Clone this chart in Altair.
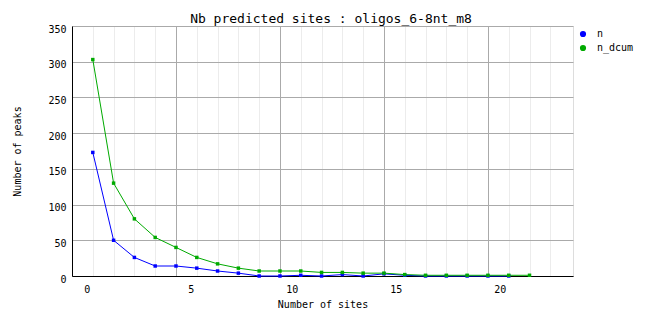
import altair as alt
import pandas as pd

# ---- data ----
sites = list(range(22))
n_values = [173, 50, 26, 14, 14, 11, 7, 4, 0, 0, 1, 0, 2, 0, 3, 1, 0, 0, 0, 0, 0]
n_dcum_values = [303, 130, 80, 54, 40, 26, 17, 11, 7, 7, 7, 5, 5, 4, 4, 2, 1, 1, 1, 1, 1, 1]
series_names = ["n", "n_dcum"]
series_colors = ["#0000ff", "#00aa00"]
y_ticks = [0, 50, 100, 150, 200, 250, 300, 350]
major_grid_x = [-1, 4, 9, 14, 19]
minor_grid_x = [i for i in range(0, 23) if i not in major_grid_x]

rows = []
for s, v in zip(sites, n_values):
    rows.append({"sites": s, "value": v, "series": "n"})
for s, v in zip(sites, n_dcum_values):
    rows.append({"sites": s, "value": v, "series": "n_dcum"})
df = pd.DataFrame(rows)

MONO = "DejaVu Sans Mono"

x_scale = alt.Scale(domain=[-1, 23.09], nice=False, zero=False)
y_scale = alt.Scale(domain=[0, 350], nice=False)
color_scale = alt.Scale(domain=series_names, range=series_colors)

# minor grid (top axis, grid only)
minor = alt.Chart(df).mark_point(opacity=0).encode(
    x=alt.X("sites:Q", scale=x_scale,
            axis=alt.Axis(orient="top", values=minor_grid_x, grid=True,
                          gridColor="#ececec", labels=False, ticks=False,
                          domain=False, title=None)),
    y=alt.Y("value:Q", scale=y_scale, axis=None),
)

lines = alt.Chart(df).mark_line(strokeWidth=1, clip=False).encode(
    x=alt.X("sites:Q", scale=x_scale,
            axis=alt.Axis(orient="bottom", values=major_grid_x, grid=True,
                          gridColor="#aaaaaa", ticks=False, domain=True,
                          domainColor="black", domainWidth=1,
                          labelExpr="'' + (datum.value + 1)",
                          labelAlign="right", labelOffset=17.8,
                          labelBaseline="alphabetic", labelPadding=16,
                          labelFont=MONO, labelFontSize=10, labelColor="black",
                          title="Number of sites", titleFont=MONO,
                          titleFontSize=10, titleFontWeight="normal",
                          titleColor="black", titleX=250.5, titleY=31,
                          titleAlign="center", titleBaseline="alphabetic")),
    y=alt.Y("value:Q", scale=y_scale,
            axis=alt.Axis(values=y_ticks, grid=True, gridColor="#aaaaaa",
                          ticks=False, domain=True, domainColor="black",
                          domainWidth=1, labelPadding=6, labelOffset=3,
                          labelFont=MONO, labelFontSize=10, labelColor="black",
                          labelBaseline="middle",
                          title="Number of peaks", titleFont=MONO,
                          titleFontSize=10, titleFontWeight="normal",
                          titleColor="black", titleAngle=270,
                          titleX=-54.5, titleY=125, titleAlign="center",
                          titleBaseline="middle")),
    color=alt.Color("series:N", scale=color_scale, legend=None),
)

points = alt.Chart(df).mark_point(shape="square", filled=True, size=12,
                                  opacity=1).encode(
    x=alt.X("sites:Q", scale=x_scale, axis=None),
    y=alt.Y("value:Q", scale=y_scale, axis=None),
    color=alt.Color("series:N", scale=color_scale,
                    legend=alt.Legend(orient="none", legendX=506, legendY=3,
                                      title=None, symbolType="circle",
                                      symbolSize=38, labelFont=MONO,
                                      labelFontSize=10, labelColor="black",
                                      labelOffset=9,
                                      rowPadding=4, padding=0,
                                      symbolOpacity=1)),
)

chart = alt.layer(minor, lines, points).resolve_axis(
    x="independent", y="independent"
).resolve_legend(color="independent").properties(
    width=501,
    height=250,
    autosize=alt.AutoSizeParams(type="none"),
    padding={"left": 72, "top": 26, "right": 89, "bottom": 52},
    title=alt.TitleParams(
        "Nb predicted sites : oligos_6-8nt_m8",
        font=MONO, fontSize=13, fontWeight="normal", color="black",
        anchor="middle", frame="group", dx=8.5, offset=3, dy=15,
        baseline="alphabetic",
    ),
).configure_view(stroke=None).configure(background="white")

chart.save("out.html", embed_options={"renderer": "svg", "actions": False})
